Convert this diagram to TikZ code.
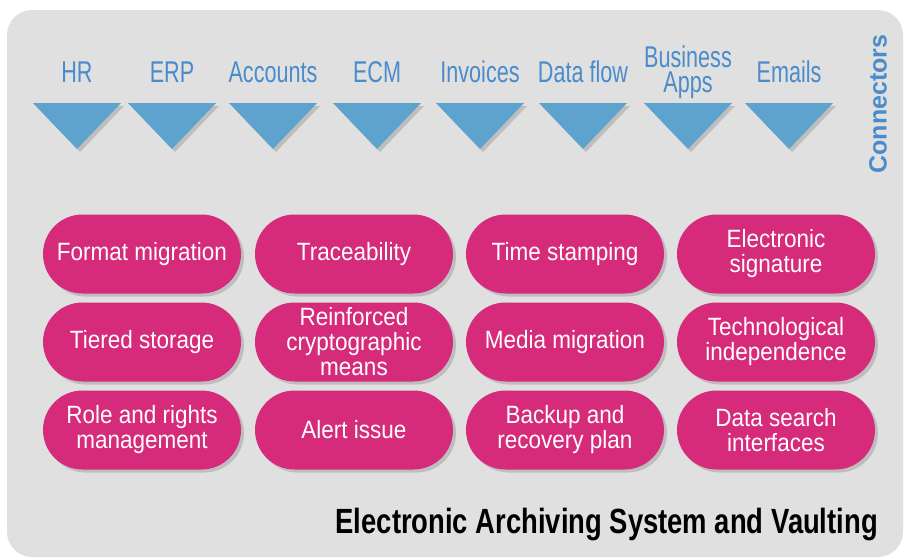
\documentclass[tikz,border=0pt]{standalone}
\usepackage{fontspec}
\setmainfont{Liberation Sans}
\newfontfamily\narrowfont[FakeStretch=0.72]{Liberation Sans}
\newfontfamily\pillfont[FakeStretch=0.9]{Liberation Sans}
\newfontfamily\headfont[FakeStretch=0.783]{Liberation Sans}
\usepackage{tikz}
\usetikzlibrary{shapes.misc}
\usetikzlibrary{shadows}
\definecolor{panelgray}{HTML}{E0E0E0}
\definecolor{connblue}{HTML}{5EA3CE}
\definecolor{labelblue}{HTML}{4A8CCB}
\definecolor{featpink}{HTML}{D62B7A}

\begin{document}
\begin{tikzpicture}[x=1pt,y=-1pt]
        \tikzset{source/.style={text=labelblue,anchor=base,align=center,inner sep=0pt,font=\narrowfont\fontsize{30}{25}\selectfont}}
        \tikzset{funnel/.style={fill=connblue,drop shadow={shadow xshift=3pt,shadow yshift=-3pt,opacity=0.35}}}
        \tikzset{feature/.style={shape=rounded rectangle,fill=featpink,text=white,align=center,
            minimum width=198pt,minimum height=79pt,inner sep=0pt,
            font=\pillfont\fontsize{25}{25}\selectfont,
            drop shadow={shadow xshift=3pt,shadow yshift=-3pt,opacity=0.35}}}

        \useasboundingbox (0,0) rectangle (905,558);
        \fill[panelgray,rounded corners=25pt] (7,10) rectangle (903,557);

        % connectors
        \node[source] (HR)  at (77,82)  {HR};
        \node[source] (ERP) at (172,82) {ERP};
        \node[source] (ACC) at (273,82) {Accounts};
        \node[source] (ECM) at (377,82) {ECM};
        \node[source] (INV) at (480,82) {Invoices};
        \node[source] (DF)  at (583,82) {Data flow};
        \node[source] (BA)  at (688,92) {Business\\Apps};
        \node[source] (EM)  at (789,82) {Emails};

        \fill[funnel] (33,103) -- (121,103) -- (77,149) -- cycle;
        \fill[funnel] (128,103) -- (216,103) -- (172,149) -- cycle;
        \fill[funnel] (229,103) -- (317,103) -- (273,149) -- cycle;
        \fill[funnel] (333,103) -- (421,103) -- (377,149) -- cycle;
        \fill[funnel] (436,103) -- (524,103) -- (480,149) -- cycle;
        \fill[funnel] (539,103) -- (627,103) -- (583,149) -- cycle;
        \fill[funnel] (644,103) -- (732,103) -- (688,149) -- cycle;
        \fill[funnel] (745,103) -- (833,103) -- (789,149) -- cycle;

        \node[text=labelblue,rotate=90,inner sep=0pt,font=\bfseries\fontsize{25}{25}\selectfont] (CON) at (878,104) {Connectors};

        % features
        \node[feature] (FM) at (142,254) {Format migration};
        \node[feature] (TR) at (354,254) {Traceability};
        \node[feature] (TS) at (565,254) {Time stamping};
        \node[feature] (ES) at (776,254) {Electronic\\signature};

        \node[feature] (TI) at (142,342) {Tiered storage};
        \node[feature] (RC) at (354,342) {Reinforced\\cryptographic\\means};
        \node[feature] (MM) at (565,342) {Media migration};
        \node[feature] (TE) at (776,342) {Technological\\independence};

        \node[feature] (RR) at (142,430) {Role and rights\\management};
        \node[feature] (AI) at (354,430) {Alert issue};
        \node[feature] (BR) at (565,430) {Backup and\\recovery plan};
        \node[feature] (DS) at (776,430) {Data search\\interfaces};

        \node[anchor=base east,inner sep=0pt,font=\headfont\bfseries\fontsize{35}{35}\selectfont] (EAS) at (878,533) {Electronic Archiving System and Vaulting};
    \end{tikzpicture}
\end{document}
